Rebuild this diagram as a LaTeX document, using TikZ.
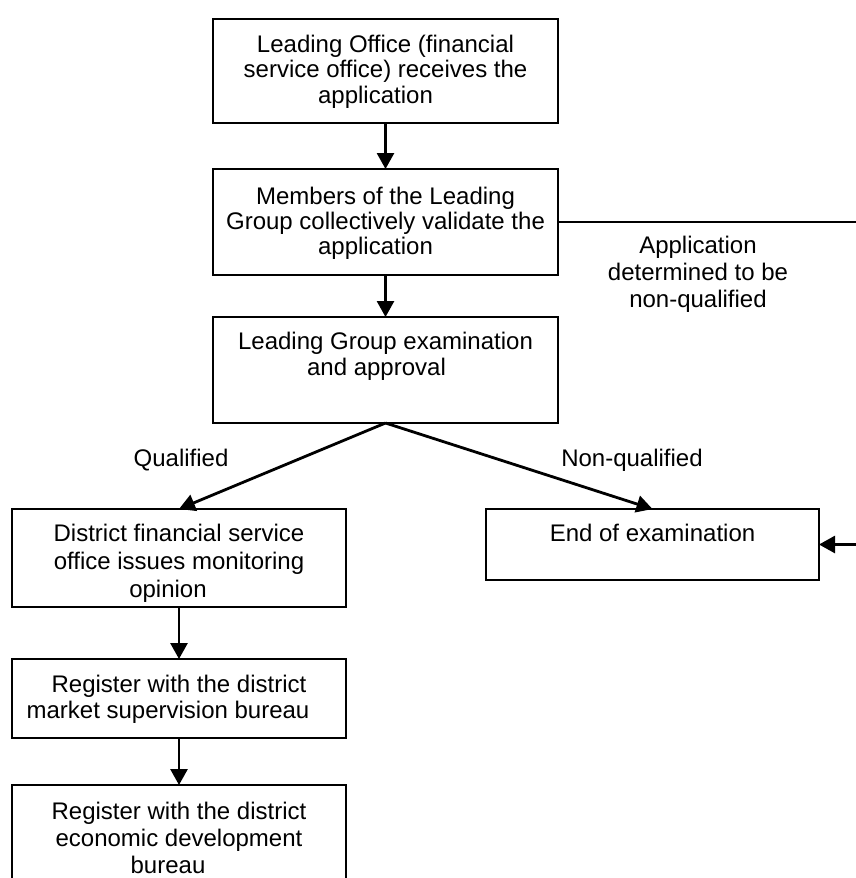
\documentclass[tikz,border=0pt]{standalone}
\usepackage{fontspec}
\setmainfont{Liberation Sans}
\usetikzlibrary{arrows.meta}
% #1 width, #2 height, #3 first baseline from top, #4 baselineskip, #5 text
\newcommand{\bxt}[5]{\parbox[c][#2pt][t]{#1pt}{\centering\fontsize{24pt}{#4pt}\selectfont\rule{0pt}{#3pt}#5\par}}
\newcommand{\trl}[1]{\hspace*{#1pt}}
\tikzset{
  box/.style={draw=black, line width=1.4pt, inner sep=0pt, outer sep=0pt, fill=white},
  conn/.style={line width=2.8pt, -{Triangle[length=16pt,width=17pt]}},
  lbl/.style={inner sep=0pt, font=\fontsize{24pt}{27pt}\selectfont}
}
\begin{document}
\begin{tikzpicture}[x=1pt,y=-1pt]
\useasboundingbox (0,0) rectangle (856,878);
\fill[white] (0,0) rectangle (856,878);

\node[box] (b1) at (385.5,71) {\bxt{345}{104}{33}{25.5}{Leading Office (financial\trl{20}\\service office) receives the\trl{20}\\application\trl{20}}};
\node[box] (b2) at (385.5,222) {\bxt{345}{106}{35}{25}{Members of the Leading\trl{20}\\Group collectively validate the\trl{20}\\application\trl{20}}};
\node[box] (b3) at (385.5,370) {\bxt{345}{106}{32}{26}{Leading Group examination\\and approval\trl{18}}};
\node[box] (b4) at (179,558) {\bxt{334}{98}{32}{28}{District financial service\\office issues monitoring\trl{22}\\opinion\trl{22}}};
\node[box] (b5) at (179,698.5) {\bxt{334}{79}{33}{26}{Register with the district\\market supervision bureau\trl{22}}};
\node[box] (b6) at (179,842.5) {\bxt{334}{115}{34}{27}{Register with the district\\economic development\trl{22}\\bureau\trl{22}}};
\node[box] (b7) at (652.5,544.5) {\bxt{333}{71}{32}{26}{End of examination}};

\node[lbl, anchor=base] (lq) at (181,466) {Qualified};
\node[lbl, anchor=base] (lnq) at (632,466) {Non-qualified};
\node[inner sep=0pt] (lapp) at (698,275) {\bxt{230}{90}{23}{27}{Application\\determined to be\\non-qualified}};

\coordinate (r1) at (858,222);
\coordinate (r2) at (858,544.5);

\draw[conn] (b1.south) -- (b2.north);
\draw[conn] (b2.south) -- (b3.north);
\draw[conn] (b3.south) -- (b4.north);
\draw[conn] (b3.south) -- (b7.north);
\draw[conn] (b4.south) -- (b5.north);
\draw[conn] (b5.south) -- (b6.north);
\draw[conn] (b2.east) -- (r1) -- (r2) -- (b7.east);
\end{tikzpicture}
\end{document}
